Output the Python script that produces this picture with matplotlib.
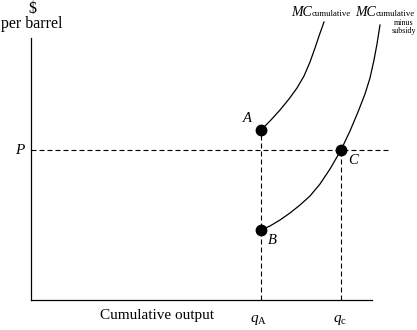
import matplotlib
matplotlib.use("Agg")
import matplotlib.pyplot as plt

plt.rcParams['font.family'] = ['Liberation Serif', 'DejaVu Serif']
plt.rcParams['mathtext.fontset'] = 'custom'
plt.rcParams['mathtext.rm'] = 'Liberation Serif'
plt.rcParams['mathtext.it'] = 'Liberation Serif:italic'

# conceptual diagram, arbitrary units (origin at the axes corner)
mc_cum_x = [230, 239, 249, 258, 266, 273, 279, 284, 288, 293]
mc_cum_y = [170, 179, 190, 201, 212, 224, 238, 252, 264, 278]

mc_sub_x = [230, 239, 249, 259, 269, 279, 289, 299, 310, 319, 327, 334, 339, 343, 346, 349]
mc_sub_y = [70, 74, 80, 87, 95, 104, 116, 131, 150, 169, 188, 206, 222, 240, 256, 275]

price = 150
q_A = 230
q_C = 310
point_names = ['A', 'B', 'C']
point_x = [q_A, q_A, q_C]
point_y = [170, 70, price]

x_end = 341   # end of the horizontal axis
y_end = 262   # top of the vertical axis
dash_end = 360

fig = plt.figure(figsize=(4.17, 3.3), dpi=100)
ax = fig.add_axes([0, 0, 1, 1])
ax.set_xlim(-31, 386)
ax.set_ylim(-30, 300)
ax.axis('off')

# axes
ax.plot([0, 0], [0, y_end], color='black', lw=0.9)
ax.plot([0, x_end], [0, 0], color='black', lw=0.9)

# dashed guides
dash = (0, (4.5, 2.7))
ax.plot([0, dash_end], [price, price], color='black', lw=0.8, linestyle=dash)
ax.plot([q_A, q_A], [0, point_y[0]], color='black', lw=0.8, linestyle=dash)
ax.plot([q_C, q_C], [0, price], color='black', lw=0.8, linestyle=dash)

# MC curves
ax.plot(mc_cum_x, mc_cum_y, color='black', lw=0.9)
ax.plot(mc_sub_x, mc_sub_y, color='black', lw=0.9)

# points
ax.plot(point_x, point_y, 'o', color='black', markersize=7.5, zorder=5)
offsets = {'A': (-14, 11), 'B': (11, -10), 'C': (12, -10)}
for name, x, y in zip(point_names, point_x, point_y):
    dx, dy = offsets[name]
    ax.text(x + dx, y + dy, name, style='italic', fontsize=10.5,
            ha='center', va='center')

# axis labels
ax.text(1, 287, '$', fontsize=11.5, ha='center', va='baseline')
ax.text(1, 272, 'per barrel', fontsize=11.5, ha='center', va='baseline')
ax.text(-11, price, 'P', style='italic', fontsize=11, ha='center', va='center')
ax.text(126, -19, 'Cumulative output', fontsize=11, ha='center', va='baseline')
ax.text(q_A - 2, -22, r'$q_{\mathrm{A}}$', fontsize=11, ha='center', va='baseline')
ax.text(q_C - 1, -22, r'$q_{\mathrm{c}}$', fontsize=11, ha='center', va='baseline')

# curve labels
mc1 = ax.text(260, 284, 'MC', style='italic', fontsize=10, ha='left', va='baseline')
ax.annotate('cumulative', xy=(1, 0), xycoords=mc1, xytext=(0.2, 0.5),
            textcoords='offset points', fontsize=6.3, ha='left', va='bottom')
mc2 = ax.text(324, 284, 'MC', style='italic', fontsize=10, ha='left', va='baseline')
ax.annotate('cumulative', xy=(1, 0), xycoords=mc2, xytext=(0.2, 0.5),
            textcoords='offset points', fontsize=6.3, ha='left', va='bottom')
ax.text(373, 275, 'minus', fontsize=5.8, ha='center', va='baseline')
ax.text(373, 267, 'subsidy', fontsize=5.8, ha='center', va='baseline')

fig.savefig('out.png', dpi=100)
